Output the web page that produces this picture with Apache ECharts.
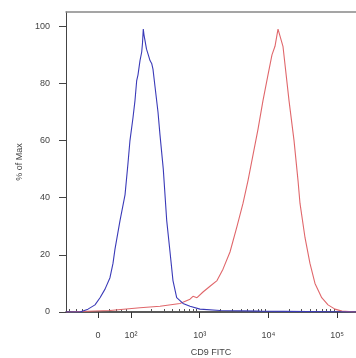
<!DOCTYPE html>
<html>
<head>
<meta charset="utf-8">
<script src="https://cdn.jsdelivr.net/npm/echarts@6/dist/echarts.min.js"></script>
<style>
  html, body { margin: 0; padding: 0; background: #fff; }
  #chart { width: 356px; height: 358px; }
</style>
</head>
<body>
<div id="chart"></div>
<script>
// x values are display positions on the biexponential FITC axis, in decades (2 = 10^2, 3 = 10^3 ...)
const controlPos = [1.054, 1.258, 1.374, 1.476, 1.549, 1.622, 1.694, 1.738, 1.767, 1.840, 1.913, 1.956, 1.985, 2.029, 2.058,
    2.083, 2.102, 2.131, 2.156, 2.167, 2.179, 2.189, 2.204, 2.226, 2.252, 2.277, 2.301, 2.320, 2.349, 2.393, 2.422,
    2.470, 2.520, 2.568, 2.611, 2.665, 2.757, 2.859, 3.004, 3.296, 3.878, 5.275];
const controlPct = [0, 0, 1, 2.5, 5, 8, 12, 17, 22, 32, 41, 52, 60, 68, 74,
    81, 83, 88, 91, 94, 99, 97, 95, 92, 90, 88, 87, 85, 79, 70, 62,
    50, 32, 21, 11, 5, 3, 2, 1, 0.5, 0.3, 0];

const cd9Pos = [1.054, 1.694, 2.131, 2.422, 2.713, 2.859, 2.902, 2.961, 3.048, 3.150, 3.252, 3.339, 3.441, 3.543, 3.630,
    3.703, 3.776, 3.849, 3.921, 3.994, 4.052, 4.096, 4.125, 4.140, 4.212, 4.300, 4.373, 4.431, 4.460, 4.533,
    4.605, 4.678, 4.776, 4.868, 4.969, 5.071, 5.275];
const cd9Pct = [0, 0.5, 1.5, 2, 3, 4.5, 5.5, 5, 7, 9, 11, 15, 21, 30, 38,
    46, 55, 64, 74, 83, 90, 93, 97, 99, 93, 74, 60, 46, 38, 26,
    17, 10, 5, 2.5, 1, 0.3, 0];

const xTickPos = [1.52, 2, 3, 4, 5];
const xTickLabels = ['0', '10²', '10³', '10⁴', '10⁵'];
const xLinearMinor = [1.102, 1.199, 1.297, 1.684, 1.782, 1.854, 1.927];
const yTickPos = [0, 20, 40, 60, 80, 100];
const yMinorPos = [5, 10, 15, 25, 30, 35, 45, 50, 55, 65, 70, 75, 85, 90, 95];

const xMinorPos = xLinearMinor.slice();
[2, 3, 4].forEach(d => {
    for (let k = 2; k <= 9; k++) xMinorPos.push(d + Math.log10(k));
});

const xMin = 1.054, xMax = 5.275;
const labelFont = { color: '#444', fontSize: 9, fontFamily: 'Liberation Sans' };

const chart = echarts.init(document.getElementById('chart'));

chart.setOption({
    backgroundColor: '#fff',
    animation: false,
    grid: { left: 66, right: 0, top: 12, bottom: 46, outerBoundsMode: 'none', containLabel: false },
    xAxis: [
        {
            type: 'value', min: xMin, max: xMax,
            name: 'CD9 FITC', nameLocation: 'middle', nameGap: 36,
            nameTextStyle: labelFont,
            axisLine: { show: true, lineStyle: { color: '#222', width: 1.5 } },
            axisTick: { show: true, customValues: xTickPos, length: 6, lineStyle: { color: '#333' } },
            axisLabel: {
                ...labelFont, margin: 19, customValues: xTickPos,
                formatter: v => xTickLabels[xTickPos.indexOf(v)] ?? ''
            },
            splitLine: { show: false }
        },
        {
            type: 'value', min: xMin, max: xMax,
            axisLine: { show: false },
            axisTick: { show: true, customValues: xMinorPos, length: 3, lineStyle: { color: '#555' } },
            axisLabel: { show: false },
            splitLine: { show: false }
        },
        {
            type: 'value', min: xMin, max: xMax, position: 'top',
            axisLine: { show: true, lineStyle: { color: '#888', width: 1.5 } },
            axisTick: { show: false },
            axisLabel: { show: false },
            splitLine: { show: false }
        }
    ],
    yAxis: [
        {
            type: 'value', min: 0, max: 105,
            name: '% of Max', nameLocation: 'middle', nameGap: 38, nameRotate: 90,
            nameTextStyle: labelFont,
            axisLine: { show: true, lineStyle: { color: '#444', width: 1 } },
            axisTick: { show: true, customValues: yTickPos, length: 7, lineStyle: { color: '#444' } },
            axisLabel: { ...labelFont, margin: 16, customValues: yTickPos },
            splitLine: { show: false }
        },
        {
            type: 'value', min: 0, max: 105,
            axisLine: { show: false },
            axisTick: { show: true, customValues: yMinorPos, length: 3, lineStyle: { color: '#555' } },
            axisLabel: { show: false },
            splitLine: { show: false }
        }
    ],
    series: [
        {
            name: 'Control',
            type: 'line',
            data: controlPos.map((x, i) => [x, controlPct[i]]),
            showSymbol: false,
            lineStyle: { color: '#3a3ab8', width: 1.1 },
            z: 3
        },
        {
            name: 'CD9',
            type: 'line',
            data: cd9Pos.map((x, i) => [x, cd9Pct[i]]),
            showSymbol: false,
            lineStyle: { color: '#e0676b', width: 1.1 },
            z: 2
        }
    ]
});
</script>
</body>
</html>
